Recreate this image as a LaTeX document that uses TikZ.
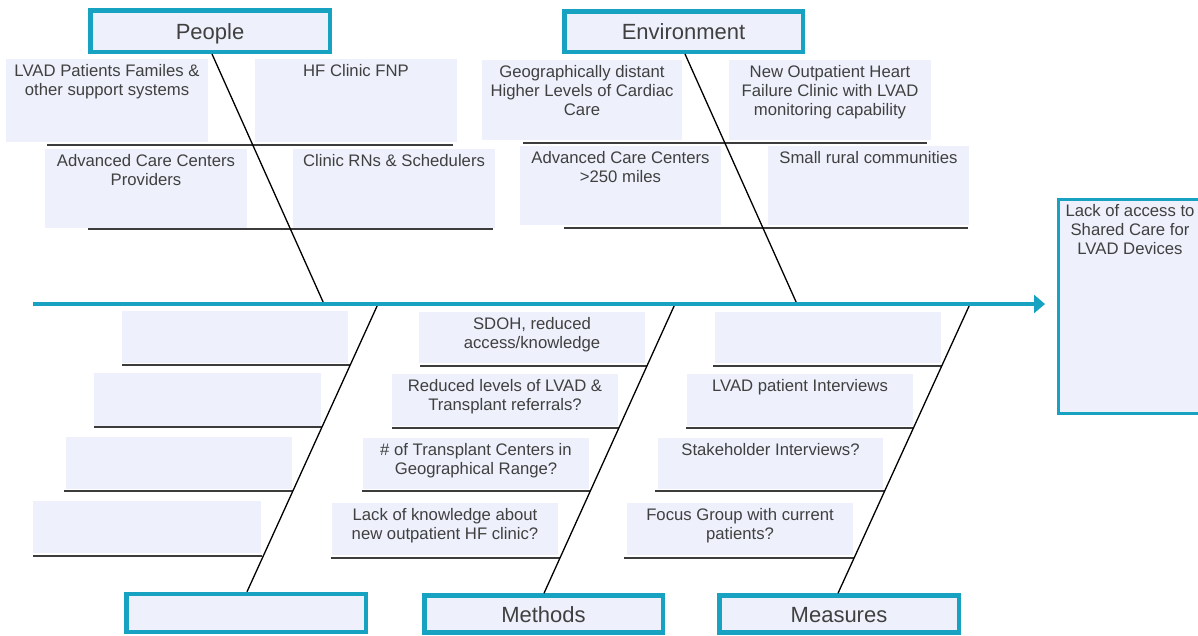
\documentclass[tikz,border=0pt]{standalone}
\usepackage{fontspec}
\setmainfont{Liberation Sans}
\usetikzlibrary{arrows.meta}
\definecolor{teal1}{RGB}{22,162,192}
\definecolor{boxfill}{RGB}{238,241,252}
\definecolor{txtgray}{RGB}{64,64,64}
\definecolor{linegray}{RGB}{60,60,60}
\tikzset{
  header/.style={draw=teal1, line width=4.5pt, fill=boxfill, inner sep=0pt, text=txtgray,
     font=\fontsize{22}{26}\selectfont, text height=16pt, text depth=0pt},
  subbox/.style={fill=boxfill, draw=none, inner sep=0pt},
  subtxt/.style={anchor=north, inner sep=0pt, align=center, text=txtgray,
     font=\fontsize{16.7}{19}\selectfont},
  uline/.style={draw=linegray, line width=1.8pt},
  bone/.style={draw=black, line width=1.3pt},
  spine/.style={draw=teal1, line width=4pt, -{Triangle[length=11pt,width=18pt]}},
}
\newcommand{\causebox}[6]{% name, x1, y1, x2, y2, text
  \node[subbox, minimum width={#4-#2}, minimum height={#5-#3}] (#1) at ({(#2+#4)/2},{(#3+#5)/2}) {};
  \node[subtxt] (#1t) at ([yshift=-5.5pt]#1.north) {#6};
}
\begin{document}
\begin{tikzpicture}[x=1pt,y=-1pt]
\useasboundingbox (0,0) rectangle (1198,635);
\clip (0,0) rectangle (1198,635);

% header boxes
\node[header, minimum width=239.5pt, minimum height=41.5pt] (people) at (210,31) {People};
\node[header, minimum width=238.5pt, minimum height=40.5pt] (env) at (683.5,31.5) {Environment};
\node[header, minimum width=239.5pt, minimum height=38pt] (blank) at (246,613) {};
\node[header, minimum width=238.5pt, minimum height=37pt] (methods) at (543.5,614) {Methods};
\node[header, minimum width=239.5pt, minimum height=37pt] (measures) at (839,614) {Measures};

% effect box
\node[draw=teal1, line width=3pt, fill=boxfill, minimum width=146pt, minimum height=214pt, inner sep=0pt] (effect) at (1131.5,306.5) {};
\node[subtxt, font=\fontsize{16.7}{19}\selectfont] (effectt) at ([yshift=-6pt]effect.north -| 1130,0) {Lack of access to\\Shared Care for\\LVAD Devices};

% sub boxes (people)
\causebox{pa}{6}{59}{208}{142}{LVAD Patients Familes \&\\other support systems}
\causebox{pb}{255}{59}{457}{142}{HF Clinic FNP}
\causebox{pc}{45}{149}{247}{228}{Advanced Care Centers\\Providers}
\causebox{pd}{293}{149}{495}{228}{Clinic RNs \& Schedulers}
% environment
\causebox{ea}{482}{60}{682}{140}{Geographically distant\\Higher Levels of Cardiac\\Care}
\causebox{eb}{729}{60}{931}{140}{New Outpatient Heart\\Failure Clinic with LVAD\\monitoring capability}
\causebox{ec}{520}{146}{721}{225}{Advanced Care Centers\\>250 miles}
\causebox{ed}{768}{146}{969}{225}{Small rural communities}
% blank bottom-left
\causebox{ba}{122}{311}{348}{363}{}
\causebox{bb}{94}{373}{321}{426}{}
\causebox{bc}{66}{437}{292}{489}{}
\causebox{bd}{33}{501}{261}{553}{}
% methods
\causebox{ma}{419}{312}{645}{363}{SDOH, reduced\\access/knowledge}
\causebox{mb}{392}{374}{618}{426}{Reduced levels of LVAD \&\\Transplant referrals?}
\causebox{mc}{363}{438}{589}{489}{\# of Transplant Centers in\\Geographical Range?}
\causebox{md}{332}{503}{558}{555}{Lack of knowledge about\\new outpatient HF clinic?}
% measures
\causebox{sa}{715}{312}{941}{363}{}
\causebox{sb}{687}{374}{913}{426}{LVAD patient Interviews}
\causebox{sc}{658}{438}{883}{489}{Stakeholder Interviews?}
\causebox{sd}{627}{503}{853}{555}{Focus Group with current\\patients?}

% underlines
\draw[uline] (47,145) -- (453,145);
\draw[uline] (88,229) -- (493,229);
\draw[uline] (523,143) -- (927,143);
\draw[uline] (564,228) -- (968,228);
\draw[uline] (122,365) -- (350,365);
\draw[uline] (94,427) -- (322,427);
\draw[uline] (64,491) -- (293,491);
\draw[uline] (33,556) -- (262,556);
\draw[uline] (420,366) -- (647,366);
\draw[uline] (392,428) -- (619,428);
\draw[uline] (362,491) -- (590,491);
\draw[uline] (331,558) -- (560,558);
\draw[uline] (713,366) -- (942,366);
\draw[uline] (686,428) -- (914,428);
\draw[uline] (655,491) -- (885,491);
\draw[uline] (624,558) -- (854,558);

% spine coordinates
\coordinate (s1) at (324,304);
\coordinate (s2) at (797,304);
\coordinate (s3) at (378,304);
\coordinate (s4) at (675,304);
\coordinate (s5) at (970,304);
\coordinate (head) at (1045,304);
\coordinate (tail) at (33,304);

% bones
\draw[bone] ([xshift=2pt]people.south) -- (s1);
\draw[bone] ([xshift=1.5pt]env.south) -- (s2);
\draw[bone] (s3) -- ([xshift=1pt]blank.north);
\draw[bone] (s4) -- ([xshift=0.5pt]methods.north);
\draw[bone] (s5) -- ([xshift=-1pt]measures.north);

% spine
\draw[spine] (tail) -- (head);
\end{tikzpicture}
\end{document}
